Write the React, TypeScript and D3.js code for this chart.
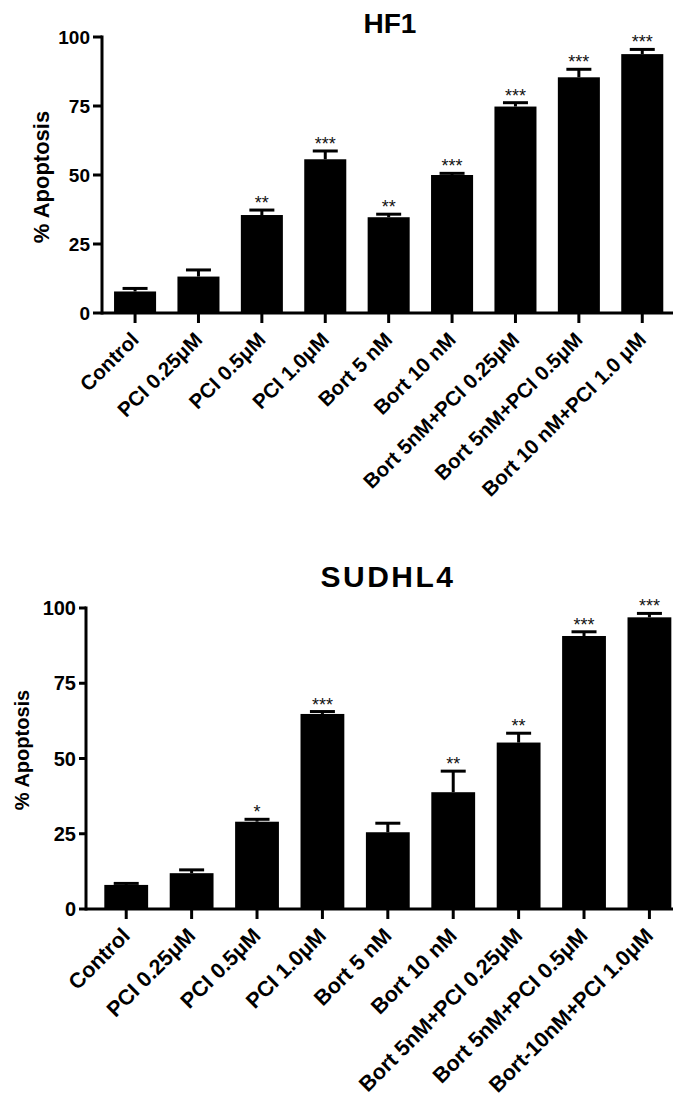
import * as d3 from "d3"

const hf1Labels = [
  "Control",
  "PCI 0.25μM",
  "PCI 0.5μM",
  "PCI 1.0μM",
  "Bort 5 nM",
  "Bort 10 nM",
  "Bort 5nM+PCI 0.25μM",
  "Bort 5nM+PCI 0.5μM",
  "Bort 10 nM+PCI 1.0 μM",
]
const hf1Means = [7.8, 13.2, 35.5, 55.7, 34.7, 50.0, 74.8, 85.4, 93.8]
const hf1Errors = [1.1, 2.4, 1.8, 3.0, 1.1, 0.6, 1.4, 2.9, 1.7]
const hf1Stars = ["", "", "**", "***", "**", "***", "***", "***", "***"]

const sudhl4Labels = [
  "Control",
  "PCI 0.25μM",
  "PCI 0.5μM",
  "PCI 1.0μM",
  "Bort 5 nM",
  "Bort 10 nM",
  "Bort 5nM+PCI 0.25μM",
  "Bort 5nM+PCI 0.5μM",
  "Bort-10nM+PCI 1.0μM",
]
const sudhl4Means = [8.0, 11.9, 29.0, 64.8, 25.5, 38.8, 55.3, 90.7, 96.9]
const sudhl4Errors = [0.5, 1.1, 0.8, 0.8, 3.0, 7.0, 3.1, 1.4, 1.3]
const sudhl4Stars = ["", "", "*", "***", "", "**", "**", "***", "***"]

const yTicks = [0, 25, 50, 75, 100]

const FONT = "'Liberation Sans', Arial, Helvetica, sans-serif"

type PanelProps = {
  title: string
  labels: string[]
  means: number[]
  errors: number[]
  stars: string[]
  layout: {
    axisX: number
    yTop: number
    yBottom: number
    step: number
    padInner: number
    padOuter: number
    titleX: number
    titleY: number
    titleSize: number
    titleSpacing: number
    yTitleX: number
    yTitleY: number
    yTitleSize: number
    tickFont: number
    labelFont: number
    yTickLen: number
  }
}

function Panel({ title, labels, means, errors, stars, layout: L }: PanelProps) {
  const n = labels.length
  const rangeEnd = L.axisX + L.step * (n - L.padInner + 2 * L.padOuter)
  const x = d3
    .scaleBand<string>()
    .domain(labels)
    .range([L.axisX, rangeEnd])
    .paddingInner(L.padInner)
    .paddingOuter(L.padOuter)
  const y = d3.scaleLinear().domain([0, 100]).range([L.yBottom, L.yTop])
  const bw = x.bandwidth()
  const capW = 25

  return (
    <g fontFamily={FONT}>
      <text
        x={L.titleX}
        y={L.titleY}
        textAnchor="middle"
        fontSize={L.titleSize}
        fontWeight="bold"
        letterSpacing={L.titleSpacing}
      >
        {title}
      </text>

      {/* bars */}
      {labels.map((lab, i) => (
        <rect
          key={lab}
          x={x(lab)}
          y={y(means[i])}
          width={bw}
          height={y(0) - y(means[i])}
          fill="#000"
        />
      ))}

      {/* error bars, upper half only */}
      {labels.map((lab, i) => {
        const cx = (x(lab) ?? 0) + bw / 2
        const top = y(means[i] + errors[i])
        return (
          <g key={lab + "-err"} stroke="#000" strokeWidth={3}>
            <line x1={cx} x2={cx} y1={y(means[i])} y2={top} />
            <line x1={cx - capW / 2} x2={cx + capW / 2} y1={top} y2={top} />
          </g>
        )
      })}

      {/* significance stars */}
      {labels.map((lab, i) =>
        stars[i] ? (
          <text
            key={lab + "-star"}
            x={(x(lab) ?? 0) + bw / 2}
            y={y(means[i] + errors[i]) - 1}
            textAnchor="middle"
            fontSize={18}
            fill="#111"
          >
            {stars[i]}
          </text>
        ) : null
      )}

      {/* y axis */}
      <line x1={L.axisX} x2={L.axisX} y1={L.yTop - 1.5} y2={L.yBottom + 1.5} stroke="#000" strokeWidth={3} />
      {yTicks.map(t => (
        <g key={t}>
          <line x1={L.axisX - L.yTickLen} x2={L.axisX} y1={y(t)} y2={y(t)} stroke="#000" strokeWidth={3} />
          <text
            x={L.axisX - L.yTickLen - 3}
            y={y(t)}
            dy="0.36em"
            textAnchor="end"
            fontSize={L.tickFont}
            fontWeight="bold"
          >
            {t}
          </text>
        </g>
      ))}
      <text
        transform={`translate(${L.yTitleX},${L.yTitleY}) rotate(-90)`}
        textAnchor="middle"
        fontSize={L.yTitleSize}
        fontWeight="bold"
      >
        % Apoptosis
      </text>

      {/* x axis */}
      <line x1={L.axisX} x2={rangeEnd} y1={L.yBottom} y2={L.yBottom} stroke="#000" strokeWidth={3} />
      {labels.map(lab => {
        const cx = (x(lab) ?? 0) + bw / 2
        return (
          <g key={lab + "-tick"}>
            <line x1={cx} x2={cx} y1={L.yBottom} y2={L.yBottom + 10} stroke="#000" strokeWidth={3} />
            <text
              transform={`translate(${cx + 5},${L.yBottom + 28}) rotate(-45)`}
              textAnchor="end"
              fontSize={L.labelFont}
              fontWeight="bold"
            >
              {lab}
            </text>
          </g>
        )
      })}
    </g>
  )
}

export default function App() {
  return (
    <div style={{ position: "absolute", left: 0, top: 0, width: 673, height: 1105, overflow: "hidden", background: "#fff" }}>
      <svg width={673} height={1105} style={{ display: "block" }}>
        <rect width={673} height={1105} fill="#fff" />
        <Panel
          title="HF1"
          labels={hf1Labels}
          means={hf1Means}
          errors={hf1Errors}
          stars={hf1Stars}
          layout={{
            axisX: 102,
            yTop: 37,
            yBottom: 313,
            step: 63.4,
            padInner: 0.337,
            padOuter: 0.19,
            titleX: 390,
            titleY: 33,
            titleSize: 28,
            titleSpacing: 0,
            yTitleX: 49,
            yTitleY: 177,
            yTitleSize: 22,
            tickFont: 19,
            labelFont: 20.5,
            yTickLen: 9,
          }}
        />
        <Panel
          title="SUDHL4"
          labels={sudhl4Labels}
          means={sudhl4Means}
          errors={sudhl4Errors}
          stars={sudhl4Stars}
          layout={{
            axisX: 86,
            yTop: 608,
            yBottom: 909,
            step: 65.4,
            padInner: 0.33,
            padOuter: 0.28,
            titleX: 388,
            titleY: 587,
            titleSize: 30,
            titleSpacing: 2.5,
            yTitleX: 29,
            yTitleY: 750,
            yTitleSize: 20,
            tickFont: 20,
            labelFont: 21.5,
            yTickLen: 7,
          }}
        />
      </svg>
    </div>
  )
}
